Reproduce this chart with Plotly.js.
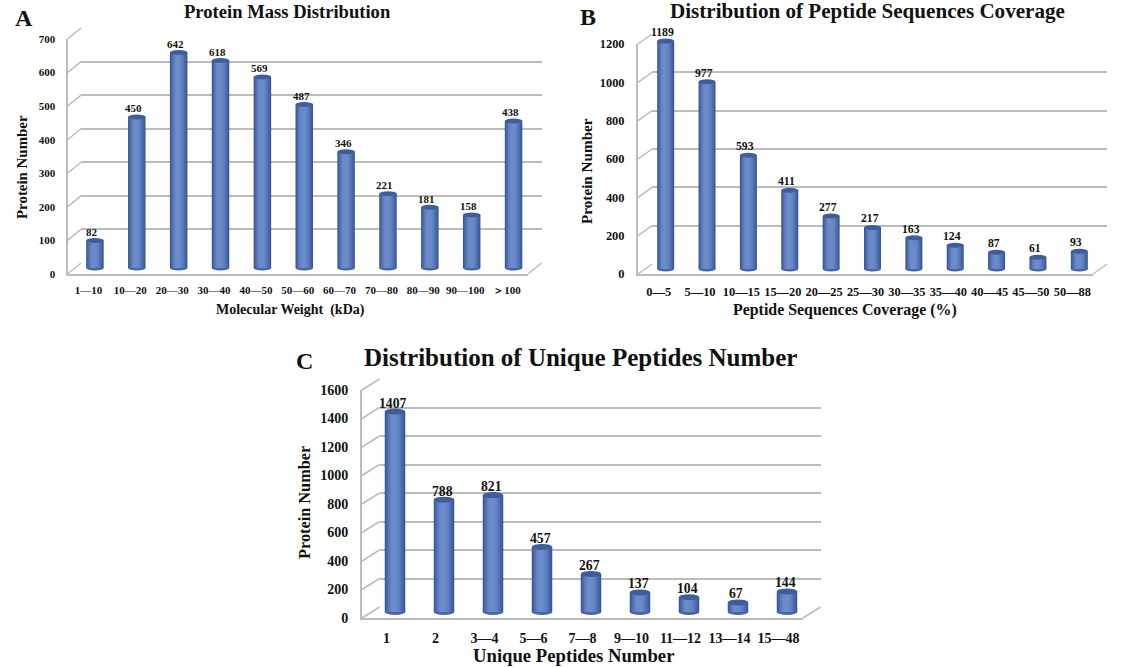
<!DOCTYPE html>
<html><head><meta charset="utf-8">
<script src="https://cdn.plot.ly/plotly-3.0.1.min.js"></script>
<style>html,body{margin:0;padding:0;background:#fff}</style>
</head><body><div id="chart" style="width:1128px;height:668px"></div>
<script>
const massCategories = ['1—10','10—20','20—30','30—40','40—50','50—60','60—70','70—80','80—90','90—100','＞100'];
const massValues = [82,450,642,618,569,487,346,221,181,158,438];
const massTicks = [0,100,200,300,400,500,600,700];

const coverageCategories = ['0—5','5—10','10—15','15—20','20—25','25—30','30—35','35—40','40—45','45—50','50—88'];
const coverageValues = [1189,977,593,411,277,217,163,124,87,61,93];
const coverageTicks = [0,200,400,600,800,1000,1200];

const uniqueCategories = ['1','2','3—4','5—6','7—8','9—10','11—12','13—14','15—48'];
const uniqueValues = [1407,788,821,457,267,137,104,67,144];
const uniqueTicks = [0,200,400,600,800,1000,1200,1400,1600];

const W = 1128, H = 668, FONT = '"Liberation Serif","Times New Roman",serif';
const GRID = '#bcbcbc', INK = '#111111';
const shades = ['#3a5793','#4362a2','#4c6cad','#5575b7','#5d7ebf','#6485c4','#6989c7','#6c8bc9'];

const panels = [
 {cats:massCategories, vals:massValues, ticks:massTicks, letter:'A', letterX:24, letterY:18,
  title:'Protein Mass Distribution', titleX:287, titleY:11, titleSize:18.6,
  xTitle:'Molecular Weight  (kDa)', xTitleX:290, xTitleY:310, xTitleSize:14,
  yTitleX:22, yTitleY:167, yTitleSize:14.9,
  fl:67.5, fr:528, fb:274, ft:39, dx:13.5, dy:11, mx:6.5, my:6, bw:17.5, tick:11, lab:11, ry:2.5, tlen:8, xlen:5, labx:-3, laby:1.5},
 {cats:coverageCategories, vals:coverageValues, ticks:coverageTicks, letter:'B', letterX:588, letterY:17,
  title:'Distribution of Peptide Sequences Coverage', titleX:868, titleY:11, titleSize:21.1,
  xTitle:'Peptide Sequences Coverage (%)', xTitleX:845, xTitleY:310, xTitleSize:15.9,
  yTitleX:587, yTitleY:171, yTitleSize:15.2,
  fl:638, fr:1093, fb:274, ft:44, dx:14, dy:10, mx:7, my:5, bw:17, tick:12.4, lab:11.7, ry:2.5, tlen:9, xlen:5, labx:-3, laby:1},
 {cats:uniqueCategories, vals:uniqueValues, ticks:uniqueTicks, letter:'C', letterX:304, letterY:361,
  title:'Distribution of Unique Peptides Number', titleX:580, titleY:358, titleSize:25,
  xTitle:'Unique Peptides Number', xTitleX:573, xTitleY:655, xTitleSize:18.7,
  yTitleX:304, yTitleY:503, yTitleSize:16.3,
  fl:362, fr:803, fb:618, ft:390, dx:17.5, dy:11, mx:8.5, my:6, bw:20.5, tick:14, lab:13.7, ry:3, tlen:9, xlen:6, labx:-2, laby:0}
];

const layout = {
  width:W, height:H, autosize:false, showlegend:false, barmode:'overlay',
  margin:{l:0,r:0,t:0,b:0,pad:0}, paper_bgcolor:'#fff', plot_bgcolor:'rgba(0,0,0,0)',
  font:{family:FONT,color:INK}, shapes:[], annotations:[], hovermode:false
};
const data = [];
const px = x => x / W, py = y => 1 - y / H;
const bold = (size,color) => ({family:FONT,size:size,color:color||INK,weight:'bold'});
let ax = 1;
const axisName = n => n === 1 ? '' : String(n);

panels.forEach(p => {
  const n = p.cats.length;
  const top = p.ticks[p.ticks.length-1];
  const k = (p.fb - p.ft) / top;       // pixels per protein
  const slot = (p.fr - p.fl) / n;      // pixels per category
  const xr = [-0.5, n-0.5];
  const yr = [0, top];
  const dom = (a,b) => [px(a), px(b)];
  const domY = (b,t) => [py(b), py(t)];

  // back wall: carries the gridlines
  const bi = ax++, bn = axisName(bi);
  layout['xaxis'+bn] = {domain:dom(p.fl+p.dx,p.fr+p.dx), range:xr, anchor:'y'+bn, showgrid:false, zeroline:false, showline:false, showticklabels:false, ticks:'', fixedrange:true};
  layout['yaxis'+bn] = {domain:domY(p.fb-p.dy,p.ft-p.dy), range:yr, anchor:'x'+bn, tickmode:'array', tickvals:p.ticks, showgrid:true, gridcolor:GRID, gridwidth:2, zeroline:false, showline:false, showticklabels:false, ticks:'', fixedrange:true};
  data.push({type:'scatter',mode:'none',x:[0],y:[0],xaxis:'x'+bn,yaxis:'y'+bn,hoverinfo:'skip'});

  // front plane: carries the axis lines and tick labels
  const fi = ax++, fn = axisName(fi);
  layout['xaxis'+fn] = {domain:dom(p.fl,p.fr), range:xr, anchor:'y'+fn, tickmode:'array', tickvals:p.cats.map((c,i)=>i), ticktext:p.cats, showgrid:false, zeroline:false, showline:true, linecolor:GRID, linewidth:2, ticks:'outside', ticklen:p.xlen, tickcolor:'rgba(0,0,0,0)', tickfont:bold(p.tick), tickangle:0, fixedrange:true};
  layout['yaxis'+fn] = {domain:domY(p.fb,p.ft), range:yr, anchor:'x'+fn, tickmode:'array', tickvals:p.ticks, ticktext:p.ticks.map(String), showgrid:false, zeroline:false, showline:true, linecolor:GRID, linewidth:2, ticks:'outside', ticklen:p.tlen, tickcolor:'rgba(0,0,0,0)', tickfont:bold(p.tick), fixedrange:true};
  data.push({type:'scatter',mode:'none',x:[0],y:[0],xaxis:'x'+fn,yaxis:'y'+fn,hoverinfo:'skip'});

  // mid plane: carries the cylinders, padded so the base ellipse is not clipped
  const mi = ax++, mn = axisName(mi);
  const pad = 8;
  layout['xaxis'+mn] = {domain:dom(p.fl+p.mx,p.fr+p.mx), range:xr, anchor:'y'+mn, visible:false, fixedrange:true};
  layout['yaxis'+mn] = {domain:domY(p.fb-p.my+pad,p.ft-p.my-pad), range:[-pad/k, top+pad/k], anchor:'x'+mn, visible:false, fixedrange:true};

  const bwData = p.bw / slot;
  const xs = p.cats.map((c,i)=>i);
  // nested bars, widest and darkest first, give the cylinder its shading
  shades.forEach((col,j) => {
    const frac = 1 - j * 0.115;
    const w = bwData * frac;
    const centre = -bwData * 0.05 * (j / (shades.length - 1));
    data.push({type:'bar', x:xs, y:p.vals, width:w, offset:centre - w/2, marker:{color:col,line:{width:0}}, xaxis:'x'+mn, yaxis:'y'+mn, hoverinfo:'skip'});
  });

  const ryD = p.ry / k, rxD = bwData / 2;
  p.vals.forEach((v,i) => {
    layout.shapes.push({type:'circle', layer:'below', xref:'x'+mn, yref:'y'+mn, x0:i-rxD, x1:i+rxD, y0:-ryD, y1:ryD, fillcolor:'#4666a6', line:{width:0}});
    layout.shapes.push({type:'circle', layer:'above', xref:'x'+mn, yref:'y'+mn, x0:i-rxD, x1:i+rxD, y0:v-ryD, y1:v+ryD, fillcolor:'#3f5d9b', line:{width:0}});
    layout.annotations.push({xref:'x'+mn, yref:'y'+mn, x:i, y:v, text:String(v), showarrow:false, xanchor:'center', yanchor:'bottom', xshift:p.labx, yshift:p.laby, font:bold(p.lab), borderpad:0});
  });

  // depth lines and floor
  const seg = (x0,y0,x1,y1) => layout.shapes.push({type:'line', layer:'below', xref:'paper', yref:'paper', x0:px(x0), y0:py(y0), x1:px(x1), y1:py(y1), line:{color:GRID,width:1.5}});
  p.ticks.forEach(t => { const y = p.fb - t*k; seg(p.fl,y,p.fl+p.dx,y-p.dy); });
  seg(p.fr,p.fb,p.fr+p.dx,p.fb-p.dy);

  const txt = (x,y,text,size,extra) => layout.annotations.push(Object.assign({xref:'paper', yref:'paper', x:px(x), y:py(y), text:text, showarrow:false, xanchor:'center', yanchor:'middle', font:bold(size), borderpad:0}, extra||{}));
  txt(p.letterX,p.letterY,p.letter,24);
  txt(p.titleX,p.titleY,p.title,p.titleSize);
  txt(p.xTitleX,p.xTitleY,p.xTitle,p.xTitleSize);
  txt(p.yTitleX,p.yTitleY,'Protein Number',p.yTitleSize,{textangle:-90});
});

Plotly.newPlot('chart', data, layout, {displayModeBar:false, staticPlot:true});
</script></body></html>
